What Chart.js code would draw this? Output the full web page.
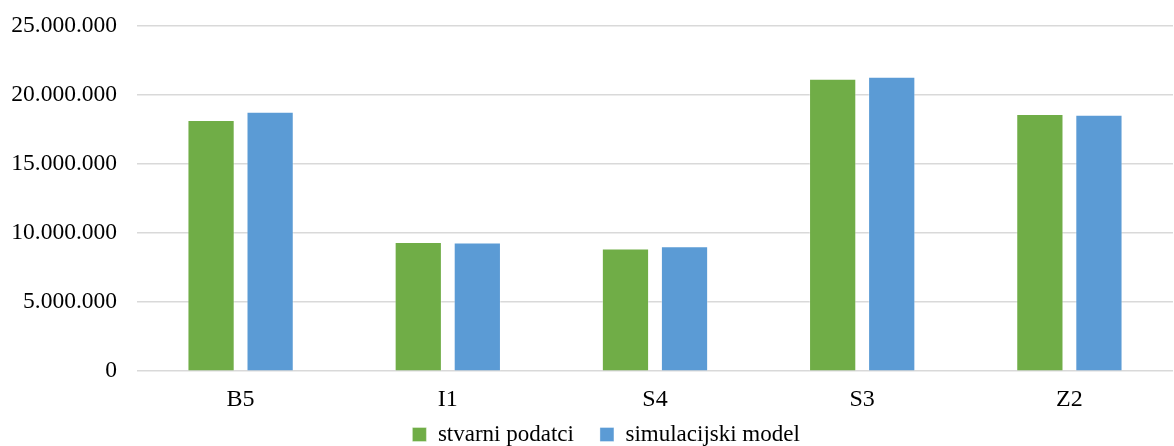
<!DOCTYPE html>
<html>
<head>
<meta charset="utf-8">
<script src="https://cdn.jsdelivr.net/npm/chart.js@4/dist/chart.umd.min.js"></script>
<style>
  html, body { margin: 0; padding: 0; background: #fff; }
  #wrap { width: 1174px; height: 446px; }
</style>
</head>
<body>
<div id="wrap"><canvas id="c" width="1174" height="446"></canvas></div>
<script>
// Categories and series values
const categories = ['B5', 'I1', 'S4', 'S3', 'Z2'];
const stvarniPodatci = [18170000, 9350000, 8870000, 21150000, 18600000];
const simulacijskiModel = [18770000, 9300000, 9030000, 21290000, 18550000];
const yTicks = [0, 5000000, 10000000, 15000000, 20000000, 25000000];

const serif = '"Liberation Serif", "Times New Roman", serif';

function formatThousands(v) {
  return String(Math.round(v)).replace(/\B(?=(\d{3})+(?!\d))/g, '.');
}

new Chart(document.getElementById('c'), {
  type: 'bar',
  data: {
    labels: categories,
    datasets: [
      {
        label: 'stvarni podatci',
        data: stvarniPodatci,
        backgroundColor: '#70AD47',
        borderColor: 'rgba(255,255,255,0.35)',
        borderWidth: 1,
        barPercentage: 0.8,
        categoryPercentage: 0.57
      },
      {
        label: 'simulacijski model',
        data: simulacijskiModel,
        backgroundColor: '#5B9BD5',
        borderColor: 'rgba(255,255,255,0.35)',
        borderWidth: 1,
        barPercentage: 0.8,
        categoryPercentage: 0.57
      }
    ]
  },
  options: {
    responsive: false,
    animation: false,
    devicePixelRatio: 1,
    layout: { padding: { top: 0, right: 1, left: 12, bottom: -10 } },
    plugins: {
      tooltip: { enabled: false },
      legend: {
        position: 'bottom',
        fullSize: false,
        labels: {
          boxWidth: 14,
          boxHeight: 14,
          padding: 3,
          color: '#000',
          font: { family: serif, size: 23 },
          // keep a wider gap after the first entry and balance the row
          generateLabels: (chart) => {
            const items = Chart.defaults.plugins.legend.labels.generateLabels(chart);
            items[0].text = items[0].text + '    ';
            items[1].text = items[1].text + '                 ';
            return items;
          }
        }
      }
    },
    scales: {
      x: {
        grid: { display: false },
        border: { display: false },
        ticks: {
          color: '#000',
          padding: 6,
          font: { family: serif, size: 24 }
        }
      },
      y: {
        min: 0,
        max: 25000000,
        afterBuildTicks: (axis) => { axis.ticks = yTicks.map(v => ({ value: v })); },
        afterFit: (axis) => {
          axis.width = 125;
          axis.paddingTop = 25.5;
        },
        grid: { color: '#d9d9d9', lineWidth: 1.5, drawTicks: false },
        border: { display: false },
        ticks: {
          color: '#000',
          padding: 20,
          font: { family: serif, size: 23.5 },
          callback: (v) => formatThousands(v)
        }
      }
    }
  }
});
</script>
</body>
</html>
